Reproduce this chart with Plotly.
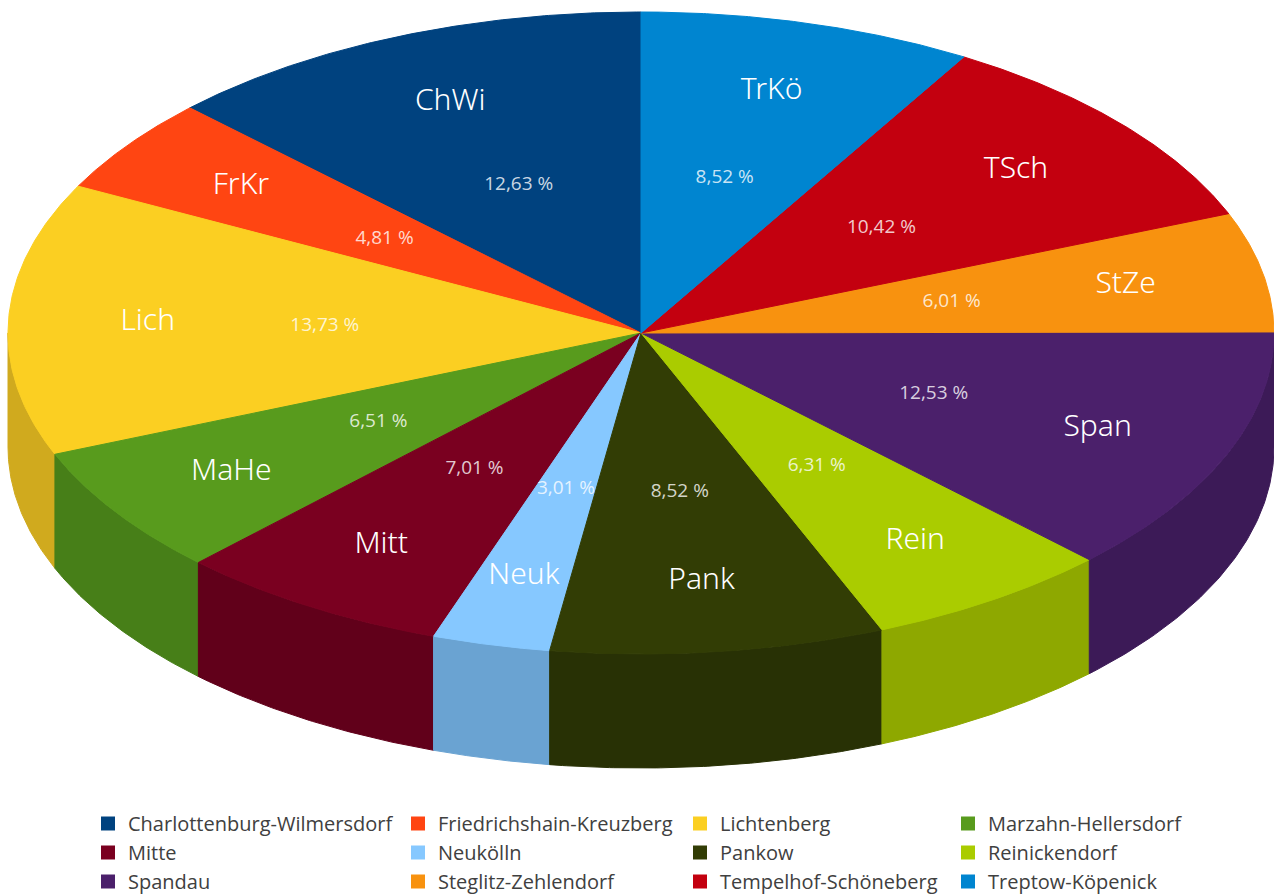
import numpy as np
import plotly.graph_objects as go

# ---------------- data ----------------
codes = ["ChWi", "FrKr", "Lich", "MaHe", "Mitt", "Neuk",
         "Pank", "Rein", "Span", "StZe", "TSch", "TrKö"]
districts = ["Charlottenburg-Wilmersdorf", "Friedrichshain-Kreuzberg", "Lichtenberg",
             "Marzahn-Hellersdorf", "Mitte", "Neukölln", "Pankow", "Reinickendorf",
             "Spandau", "Steglitz-Zehlendorf", "Tempelhof-Schöneberg", "Treptow-Köpenick"]
shares = [12.63, 4.81, 13.73, 6.51, 7.01, 3.01, 8.52, 6.31, 12.53, 6.01, 10.42, 8.52]

top_colors = ["#00427F", "#FF4512", "#FBCF22", "#589B1D", "#7A0020", "#86C8FF",
              "#323D05", "#AACC00", "#4B206B", "#F8920F", "#C3000F", "#0085D0"]
side_colors = ["#003566", "#D0380F", "#D0AA1E", "#477F18", "#61001A", "#6AA3D2",
               "#283105", "#8EA800", "#3C1A57", "#CC780C", "#9E000C", "#006DAA"]

# ---------------- geometry of the 3D pie (pixels) ----------------
CX, CY, RX, RY, DEPTH = 641, 333, 633, 321, 114
W, H = 1274, 895


def pt(phi_deg, r=1.0, dy=0.0):
    """phi measured counter-clockwise from 12 o'clock."""
    p = np.radians(phi_deg)
    return CX - r * RX * np.sin(p), CY - r * RY * np.cos(p) + dy


total = sum(shares)
bounds = np.concatenate([[0], np.cumsum(shares) / total * 360.0])

fig = go.Figure()

# side walls (only the front half is visible)
for i, code in enumerate(codes):
    a0, a1 = bounds[i], bounds[i + 1]
    s0, s1 = max(a0, 90.0), min(a1, 270.0)
    if s1 <= s0:
        continue
    ang = np.linspace(s0, s1, 80)
    xt, yt = pt(ang)
    xb, yb = pt(ang[::-1], dy=DEPTH)
    fig.add_trace(go.Scatter(
        x=np.concatenate([xt, xb, xt[:1]]), y=np.concatenate([yt, yb, yt[:1]]),
        mode="lines", fill="toself", fillcolor=side_colors[i],
        line=dict(color=side_colors[i], width=1), hoverinfo="skip", showlegend=False))

# top faces
for i, code in enumerate(codes):
    a0, a1 = bounds[i], bounds[i + 1]
    ang = np.linspace(a0, a1, 120)
    xa, ya = pt(ang)
    fig.add_trace(go.Scatter(
        x=np.concatenate([[CX], xa, [CX]]), y=np.concatenate([[CY], ya, [CY]]),
        mode="lines", fill="toself", fillcolor=top_colors[i],
        line=dict(color=top_colors[i], width=1), name=districts[i],
        hoverinfo="name", showlegend=False))

# labels
mids = (bounds[:-1] + bounds[1:]) / 2
nx, ny = pt(mids, r=0.78)
px_, py_ = pt(mids, r=0.50)
fig.add_trace(go.Scatter(x=nx, y=ny, mode="text", text=codes,
                         textfont=dict(family="Noto Sans", size=30, color="white", weight=300),
                         hoverinfo="skip", showlegend=False))
pct_text = [f"{v:.2f}".replace(".", ",") + " %" for v in shares]
fig.add_trace(go.Scatter(x=px_, y=py_, mode="text", text=pct_text,
                         textfont=dict(family="Open Sans", size=19, color="rgba(255,255,255,0.8)"),
                         hoverinfo="skip", showlegend=False))

# legend entries: 4 columns x 3 rows
legend_ids = ["legend", "legend2", "legend3", "legend4"]
for i, name in enumerate(districts):
    fig.add_trace(go.Scatter(
        x=[None], y=[None], mode="markers", name=name,
        marker=dict(symbol="square", size=14, color=top_colors[i]),
        legend=legend_ids[i % 4], legendgroup=name, showlegend=True))

col_x = [103, 413, 695, 963]
leg_common = dict(orientation="v", yanchor="top", xanchor="left", y=1 - 804 / H,
                  font=dict(family="Open Sans", size=20, color="#404040"),
                  bgcolor="rgba(0,0,0,0)", tracegroupgap=0, itemclick=False,
                  itemdoubleclick=False)
legends = {}
for j, lid in enumerate(legend_ids):
    legends[lid] = dict(leg_common, x=(col_x[j] - 15) / W)

fig.update_layout(
    width=W, height=H, autosize=False,
    margin=dict(l=0, r=0, t=0, b=0, autoexpand=False),
    paper_bgcolor="white", plot_bgcolor="white",
    xaxis=dict(range=[0, W], visible=False, fixedrange=True),
    yaxis=dict(range=[H, 0], visible=False, fixedrange=True),
    showlegend=True,
    **legends,
)

fig.write_html("out.html", config={"displayModeBar": False},
               post_script="document.body.style.margin='0';document.body.style.overflow='hidden';")
